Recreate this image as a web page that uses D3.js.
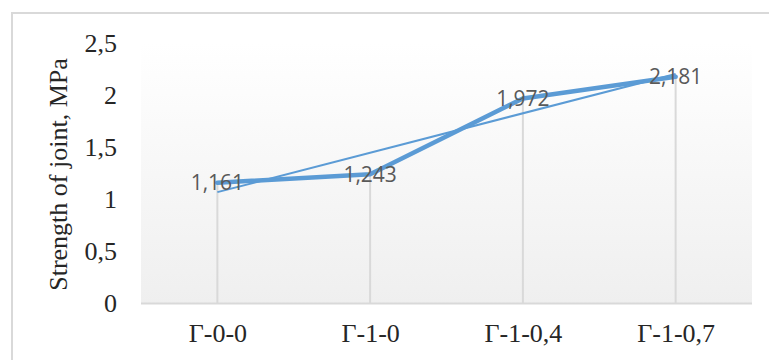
<!DOCTYPE html>
<html>
<head>
<meta charset="utf-8">
<script src="https://cdn.jsdelivr.net/npm/d3@7"></script>
<style>
    html, body { margin: 0; padding: 0; background: #ffffff; }
    svg { display: block; }
</style>
</head>
<body>
<svg id="svg-container" width="769" height="360"></svg>
<script>
// chart data
var categories = ["Γ-0-0", "Γ-1-0", "Γ-1-0,4", "Γ-1-0,7"];
var strength = [1.161, 1.243, 1.972, 2.181];
var yTicks = [0, 0.5, 1, 1.5, 2, 2.5];
var yTitle = "Strength of joint, MPa";

var CHART = {
    LEFT: 141,
    RIGHT: 752,
    TOP: 43.5,
    BOTTOM: 303.5,
    BLUE: "#5b9bd5",
    GRID: "#d9d9d9",
    SERIF: "Liberation Serif, Times New Roman, serif",
    SANS: "Open Sans, Liberation Sans, sans-serif",

    draw: function () {
        var svg = d3.select("#svg-container");
        var locale = d3.formatLocale({ decimal: ",", thousands: " ", grouping: [3], currency: ["", ""] });
        var fmtTick = locale.format("~g");
        var fmtLabel = locale.format(".3f");

        var x = d3.scalePoint()
            .domain(categories)
            .range([CHART.LEFT, CHART.RIGHT])
            .padding(0.5);

        var y = d3.scaleLinear()
            .domain([0, 2.5])
            .range([CHART.BOTTOM, CHART.TOP]);

        // outer chart border
        svg.append("rect")
            .attr("x", 12)
            .attr("y", 13)
            .attr("width", 780)
            .attr("height", 380)
            .attr("fill", "#ffffff")
            .attr("stroke", "#d9d9d9")
            .attr("stroke-width", 2);

        // plot area gradient
        var grad = svg.append("defs").append("linearGradient")
            .attr("id", "plotGrad")
            .attr("x1", 0).attr("y1", 0)
            .attr("x2", 0).attr("y2", 1);
        grad.append("stop").attr("offset", "0%").attr("stop-color", "#ffffff");
        grad.append("stop").attr("offset", "100%").attr("stop-color", "#efefef");

        svg.append("rect")
            .attr("x", CHART.LEFT)
            .attr("y", CHART.TOP)
            .attr("width", CHART.RIGHT - CHART.LEFT)
            .attr("height", CHART.BOTTOM - CHART.TOP)
            .attr("fill", "url(#plotGrad)");

        // drop lines
        svg.append("g").selectAll("line")
            .data(strength)
            .join("line")
            .attr("x1", function (d, i) { return x(categories[i]); })
            .attr("x2", function (d, i) { return x(categories[i]); })
            .attr("y1", function (d) { return y(d); })
            .attr("y2", y(0))
            .attr("stroke", CHART.GRID)
            .attr("stroke-width", 2);

        // category axis
        var xAxis = svg.append("g")
            .attr("transform", "translate(0," + y(0) + ")")
            .call(d3.axisBottom(x).tickSize(0).tickPadding(20));
        xAxis.select(".domain")
            .attr("d", "M" + CHART.LEFT + ",0H" + CHART.RIGHT)
            .attr("stroke", CHART.GRID)
            .attr("stroke-width", 2);
        xAxis.selectAll("text")
            .attr("fill", "#262626")
            .attr("font-family", CHART.SERIF)
            .attr("font-size", "26px")
            .attr("dy", "0.71em");

        // value axis (labels only)
        var yAxis = svg.append("g")
            .attr("transform", "translate(117,0)")
            .call(d3.axisLeft(y).tickValues(yTicks).tickFormat(fmtTick).tickSize(0).tickPadding(0));
        yAxis.select(".domain").remove();
        yAxis.selectAll("text")
            .attr("fill", "#262626")
            .attr("font-family", CHART.SERIF)
            .attr("font-size", "26px")
            .attr("dy", "0.32em");

        svg.append("text")
            .attr("transform", "translate(61," + ((CHART.TOP + CHART.BOTTOM) / 2 + 1) + ") rotate(-90)")
            .attr("text-anchor", "middle")
            .attr("dominant-baseline", "middle")
            .attr("fill", "#262626")
            .attr("font-family", CHART.SERIF)
            .attr("font-size", "26px")
            .text(yTitle);

        // linear trendline (least squares over category index)
        var idx = strength.map(function (d, i) { return i + 1; });
        var mx = d3.mean(idx), my = d3.mean(strength);
        var slope = d3.sum(idx, function (v, i) { return (v - mx) * (strength[i] - my); }) /
            d3.sum(idx, function (v) { return (v - mx) * (v - mx); });
        var trend = idx.map(function (v) { return my + slope * (v - mx); });

        var line = d3.line()
            .x(function (d, i) { return x(categories[i]); })
            .y(function (d) { return y(d); });

        svg.append("path")
            .datum([trend[0], trend[trend.length - 1]])
            .attr("d", d3.line()
                .x(function (d, i) { return i === 0 ? x(categories[0]) : x(categories[categories.length - 1]); })
                .y(function (d) { return y(d); }))
            .attr("fill", "none")
            .attr("stroke", CHART.BLUE)
            .attr("stroke-width", 2);

        svg.append("path")
            .datum(strength)
            .attr("d", line)
            .attr("fill", "none")
            .attr("stroke", CHART.BLUE)
            .attr("stroke-width", 4.5)
            .attr("stroke-linejoin", "round")
            .attr("stroke-linecap", "round");

        // data labels
        svg.append("g").selectAll("text")
            .data(strength)
            .join("text")
            .attr("x", function (d, i) { return x(categories[i]); })
            .attr("y", function (d) { return y(d); })
            .attr("text-anchor", "middle")
            .attr("dy", "0.36em")
            .attr("fill", "#595959")
            .attr("font-family", CHART.SANS)
            .attr("font-size", "21px")
            .text(function (d) { return fmtLabel(d); });
    }
};

CHART.draw();
</script>
</body>
</html>
